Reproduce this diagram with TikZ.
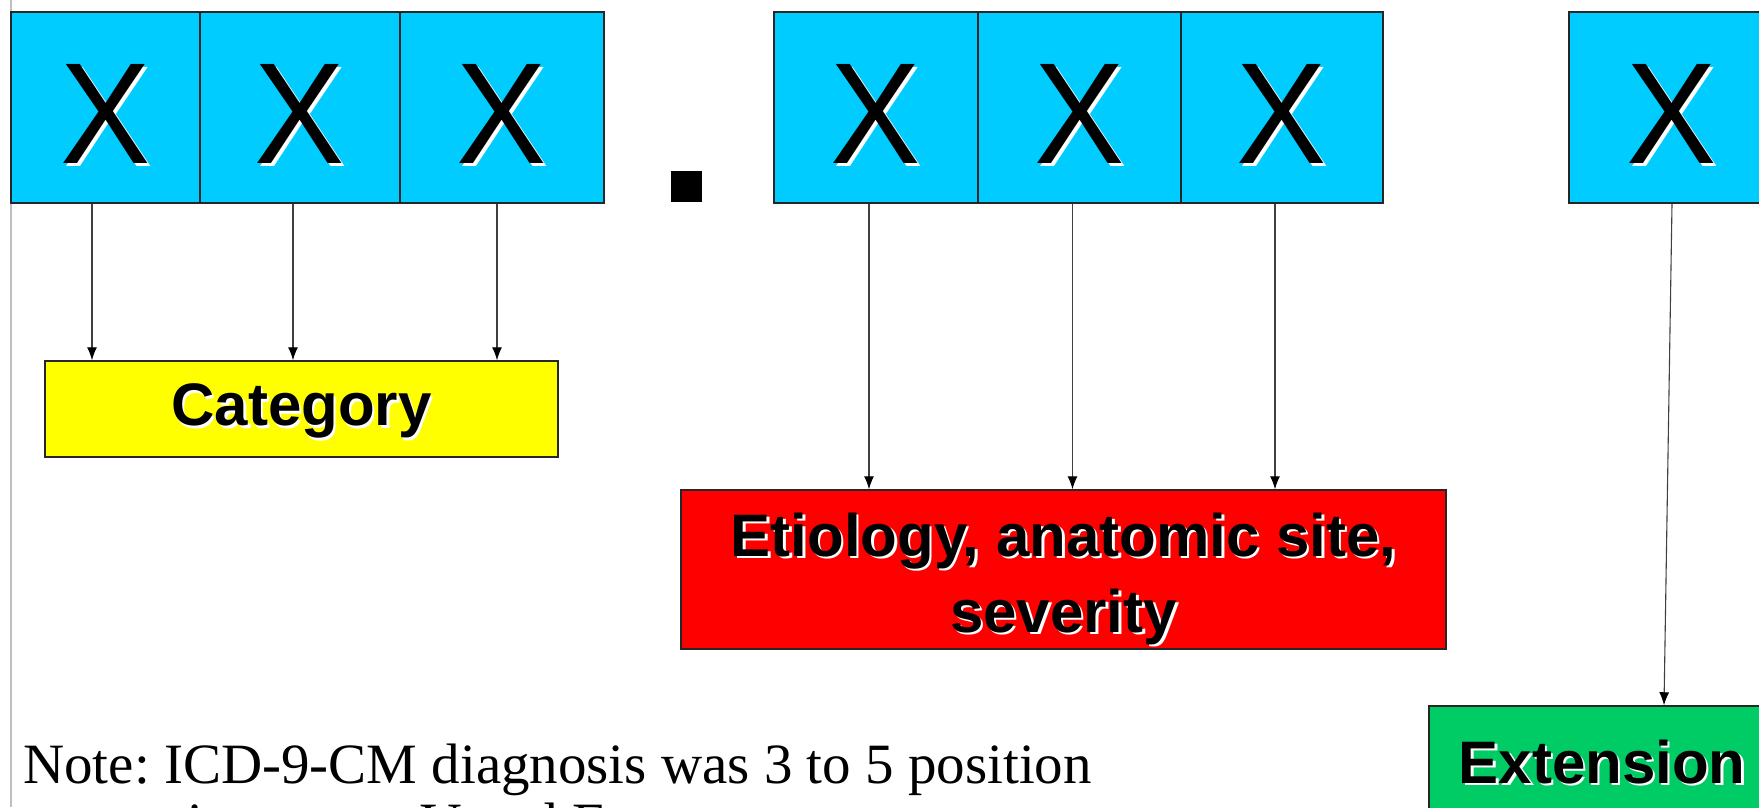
\documentclass[tikz,border=0pt]{standalone}
\usepackage{fontspec}
\setmainfont{Liberation Serif}
\newfontfamily\arialfont{Liberation Sans}
\usetikzlibrary{arrows.meta,calc}
\definecolor{cyanbox}{RGB}{0,204,255}
\definecolor{yellowbox}{RGB}{255,255,0}
\definecolor{redbox}{RGB}{255,0,0}
\definecolor{greenbox}{RGB}{0,204,102}
\newcommand{\shd}[2][3pt]{\makebox[0pt][l]{\kern#1\raisebox{-#1}{\textcolor{white}{#2}}}#2}
\newcommand{\bigX}{\scalebox{0.94}[1]{\shd{X}}}
\frenchspacing
\begin{document}
\begin{tikzpicture}[x=1pt,y=-1pt,
  cell/.style={draw=black!85, line width=1.5pt, fill=cyanbox, inner sep=0pt,
    minimum height=191pt, text height=115pt,
    font=\arialfont\fontsize{144}{144}\selectfont},
  label/.style={draw=black!85, line width=1.5pt, inner sep=0pt, align=center,
    font=\arialfont\bfseries\fontsize{60}{76}\selectfont},
  arr/.style={draw=black!75, line width=1.1pt, -{Latex[length=13pt,width=10pt,color=black]}},
  notetext/.style={anchor=base west, inner sep=0pt, font=\fontsize{57}{57}\selectfont}
]
\useasboundingbox (0,0) rectangle (1759,807);
\clip (0,0) rectangle (1759,807);
\fill[white] (0,0) rectangle (1759,807);
\draw[black!25, line width=1.5pt] (11,0) -- (11,807);

% top row
\node[cell, minimum width=189pt] (a1) at (105.5,107.5) {\bigX};
\node[cell, minimum width=200pt] (a2) at (300,107.5) {\bigX};
\node[cell, minimum width=204pt] (a3) at (502,107.5) {\bigX};
\node[fill=black, minimum size=31pt, inner sep=0pt] (dot) at (686.5,186.5) {};
\node[cell, minimum width=204pt] (b1) at (876,107.5) {\bigX};
\node[cell, minimum width=203pt] (b2) at (1079.5,107.5) {\bigX};
\node[cell, minimum width=202pt] (b3) at (1282,107.5) {\bigX};
\node[cell, minimum width=206pt] (c1) at (1672,107.5) {\bigX};

% labels
\node[label, fill=yellowbox, minimum width=513pt, minimum height=96pt, text height=49pt] (cat) at (301.5,409) {\shd[2.5pt]{Category}};
\node[label, fill=redbox, minimum width=765pt, minimum height=159pt, text height=140pt] (eti) at (1063.5,569.5)
  {\shd[2.5pt]{Etiology, anatomic site,}\\\shd[2.5pt]{severity}};
\node[label, fill=greenbox, minimum width=346pt, minimum height=114pt] (ext) at (1602,763) {\shd[2.5pt]{Extension}};

% connectors
\draw[arr] ([xshift=-13.5pt]a1.south) -- ([xshift=-13.5pt]a1.south |- cat.north);
\draw[arr] ([xshift=-7pt]a2.south) -- ([xshift=-7pt]a2.south |- cat.north);
\draw[arr] ([xshift=-5pt]a3.south) -- ([xshift=-5pt]a3.south |- cat.north);
\draw[arr] ([xshift=-7pt]b1.south) -- ([xshift=-7pt]b1.south |- eti.north);
\draw[arr] ([xshift=-7pt]b2.south) -- ([xshift=-7pt]b2.south |- eti.north);
\draw[arr] ([xshift=-7pt]b3.south) -- ([xshift=-7pt]b3.south |- eti.north);
\draw[arr] (c1.south) -- ([xshift=62pt]ext.north);

% note
\node[notetext] (note1) at (23,783) {Note: ICD-9-CM diagnosis was 3 to 5 position};
\node[notetext] (note2) at (42,842) {numeric, except V and E};
\end{tikzpicture}
\end{document}
